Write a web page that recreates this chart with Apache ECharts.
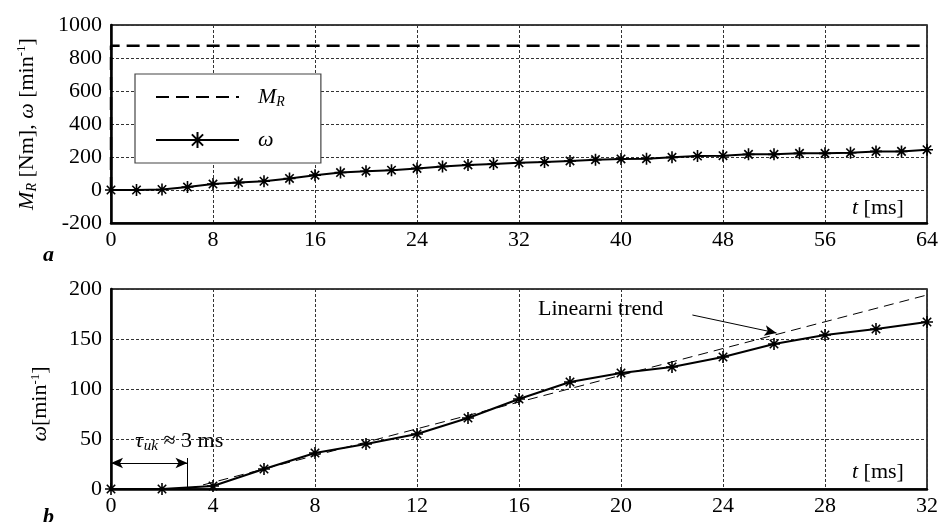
<!DOCTYPE html>
<html>
<head>
<meta charset="utf-8">
<script src="https://cdn.jsdelivr.net/npm/echarts@6/dist/echarts.min.js"></script>
<style>
html,body{margin:0;padding:0;background:#fff;}
#c{width:941px;height:522px;}
</style>
</head>
<body>
<div id="c"></div>
<script>
// ---- data ----
const tA = [0,2,4,6,8,10,12,14,16,18,20,22,24,26,28,30,32,34,36,38,40,42,44,46,48,50,52,54,56,58,60,62,64];
const omegaA = [0,0,3,18,36,45,53,70,90,106,114,120,131,142,152,158,165,170,176,184,188,190,198,206,208,216,216,222,222,226,234,234,244];
const mrT = [0,0,64];
const mrV = [0,875,875];
const tB = [0,2,4,6,8,10,12,14,16,18,20,22,24,26,28,30,32];
const omegaB = [0,0,3,20,36,45,55,71,90,107,116,122,132,145,154,160,167];
const trendT = [3,32];
const trendV = [0,194];
const xTicksA = [0,8,16,24,32,40,48,56,64];
const yTicksA = [-200,0,200,400,600,800,1000];
const xTicksB = [0,4,8,12,16,20,24,28,32];
const yTicksB = [0,50,100,150,200];

const F = 'Liberation Serif';
const FS = 22;
const pairs = (a,b)=>a.map((v,i)=>[v,b[i]]);
const star = 'path://M5,0L5,10M0,5L10,5M1.5,1.5L8.5,8.5M1.5,8.5L8.5,1.5';

const grid1 = {left:111, top:25, width:820, height:198};
const grid2 = {left:111, top:289, width:820, height:200};

function xAx(idx, ticks){
  return {type:'value', gridIndex:idx, min:ticks[0], max:ticks[ticks.length-1], interval:ticks[1]-ticks[0],
    axisLine:{show:true,onZero:false,lineStyle:{color:'#000',width:2.5}},
    axisTick:{show:false},
    axisLabel:{color:'#000',fontFamily:F,fontSize:FS,margin:6,formatter:v=>String(v)},
    splitLine:{show:true,lineStyle:{color:'#333',width:1,type:[3,2]}}};
}
function yAx(idx, ticks, name, gap, pad){
  return {type:'value', gridIndex:idx, min:ticks[0], max:ticks[ticks.length-1], interval:ticks[1]-ticks[0],
    axisLine:{show:true,onZero:false,lineStyle:{color:'#000',width:2.5}},
    axisTick:{show:false},
    axisLabel:{color:'#000',fontFamily:F,fontSize:FS,margin:9,formatter:v=>String(v)},
    splitLine:{show:true,lineStyle:{color:'#333',width:1,type:[3,2]}},
    name:name, nameLocation:'middle', nameGap:gap, nameRotate:90,
    nameTextStyle:{color:'#000',fontFamily:F,fontSize:FS,padding:pad,
      rich:{i:{fontFamily:F,fontSize:FS,fontStyle:'italic',color:'#000'},
            sub:{fontFamily:F,fontSize:14,fontStyle:'italic',color:'#000',verticalAlign:'bottom',padding:[10,0,0,0]},
            sup:{fontFamily:F,fontSize:13,color:'#000',verticalAlign:'top',padding:[0,0,8,0]},
            n:{fontFamily:F,fontSize:FS,color:'#000'}}}};
}

const chart = echarts.init(document.getElementById('c'), null, {renderer:'canvas'});
chart.setOption({
  animation:false,
  backgroundColor:'#fff',
  grid:[Object.assign({show:true,borderColor:'#000',borderWidth:1.5},grid1),
        Object.assign({show:true,borderColor:'#000',borderWidth:1.5},grid2)],
  xAxis:[xAx(0,xTicksA), xAx(1,xTicksB)],
  yAxis:[yAx(0,yTicksA,'{i|M}{sub|R}{n| [Nm], }{i|ω}{n| [min}{sup|-1}{n|]}',72,[0,0,0,0]),
         yAx(1,yTicksB,'{i|ω}{n|[min}{sup|-1}{n|]}',60,[0,30,0,0])],
  legend:{
    left:135, top:74, orient:'vertical',
    data:[{name:'MR', itemStyle:{opacity:0}}, {name:'ω'}],
    backgroundColor:'#fff', borderColor:'#444', borderWidth:1.2,
    padding:[12,36,12,20], itemWidth:83, itemHeight:20, itemGap:20,
    textStyle:{color:'#000',fontFamily:F,fontSize:FS,padding:[0,0,0,14],
      rich:{i:{fontFamily:F,fontSize:FS,fontStyle:'italic',color:'#000'},
            sub:{fontFamily:F,fontSize:14,fontStyle:'italic',color:'#000',verticalAlign:'bottom',padding:[10,0,0,0]}}},
    formatter:function(n){ return n==='MR' ? '{i|M}{sub|R}' : '{i|ω}'; }
  },
  series:[
    {name:'MR', type:'line', xAxisIndex:0, yAxisIndex:0, data:pairs(mrT,mrV), symbol:'none',
     lineStyle:{color:'#000',width:2.5,type:[13,7]}, itemStyle:{color:'#000'}, z:3},
    {name:'ω', type:'line', xAxisIndex:0, yAxisIndex:0, data:pairs(tA,omegaA),
     symbol:star, symbolSize:12, showAllSymbol:true,
     lineStyle:{color:'#000',width:2}, itemStyle:{color:'#000',borderColor:'#000',borderWidth:1.6}, z:4},
    {name:'trend', type:'line', xAxisIndex:1, yAxisIndex:1, data:pairs(trendT,trendV), symbol:'none',
     lineStyle:{color:'#000',width:1,type:[10,6]}, z:3,
     markLine:{silent:true, symbolSize:[8,12], animation:false,
       label:{show:false},
       lineStyle:{color:'#000',width:1,type:'solid'},
       data:[
         [{coord:[22.8,174],symbol:'none'},{coord:[26.1,156],symbol:'arrow'}],
         [{coord:[0,26],symbol:'arrow'},{coord:[3,26],symbol:'arrow'}],
         [{coord:[3,0],symbol:'none'},{coord:[3,31],symbol:'none'}]
       ]}},
    {name:'ωb', type:'line', xAxisIndex:1, yAxisIndex:1, data:pairs(tB,omegaB),
     symbol:star, symbolSize:12, showAllSymbol:true,
     lineStyle:{color:'#000',width:2}, itemStyle:{color:'#000',borderColor:'#000',borderWidth:1.6}, z:4}
  ],
  graphic:[
    {type:'text', left:852, top:197, style:{text:'{i|t} [ms]', fill:'#000', font:FS+'px "'+F+'"',
      rich:{i:{fontStyle:'italic',fontFamily:F,fontSize:FS,fill:'#000'}}}},
    {type:'text', left:852, top:461, style:{text:'{i|t} [ms]', fill:'#000', font:FS+'px "'+F+'"',
      rich:{i:{fontStyle:'italic',fontFamily:F,fontSize:FS,fill:'#000'}}}},
    {type:'text', left:538, top:298, style:{text:'Linearni trend', fill:'#000', font:FS+'px "'+F+'"'}},
    {type:'text', left:135, top:430, style:{text:'{i|τ}{sub|uk}{n| ≈ 3 ms}', fill:'#000', font:FS+'px "'+F+'"',
      rich:{i:{fontStyle:'italic',fontFamily:F,fontSize:FS,fill:'#000'},
            sub:{fontStyle:'italic',fontFamily:F,fontSize:15,fill:'#000',verticalAlign:'bottom',padding:[10,0,0,1]},
            n:{fontFamily:F,fontSize:FS,fill:'#000'}}}},
    {type:'text', left:43, top:244, style:{text:'a', fill:'#000', font:'italic bold 22px "'+F+'"'}},
    {type:'text', left:43, top:506, style:{text:'b', fill:'#000', font:'italic bold 22px "'+F+'"'}}
  ]
});
</script>
</body>
</html>
